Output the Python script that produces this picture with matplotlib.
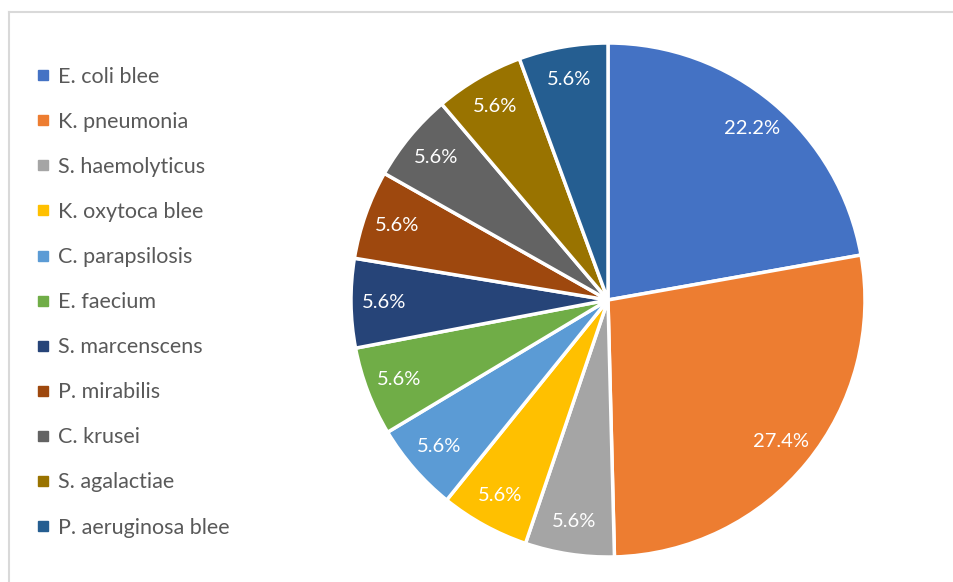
import matplotlib.pyplot as plt
from matplotlib.lines import Line2D

labels = [
    "E. coli blee",
    "K. pneumonia",
    "S. haemolyticus",
    "K. oxytoca blee",
    "C. parapsilosis",
    "E. faecium",
    "S. marcenscens",
    "P. mirabilis",
    "C. krusei",
    "S. agalactiae",
    "P. aeruginosa blee",
]
shares = [22.2, 27.4, 5.6, 5.6, 5.6, 5.6, 5.6, 5.6, 5.6, 5.6, 5.6]
colors = [
    "#4472C4", "#ED7D31", "#A5A5A5", "#FFC000", "#5B9BD5", "#70AD47",
    "#264478", "#9E480E", "#636363", "#997300", "#255E91",
]

plt.rcParams["font.family"] = ["Lato", "DejaVu Sans"]

W, H = 954, 582
fig = plt.figure(figsize=(W / 100, H / 100), dpi=100)

# pie centre (608, 300) px, radius 257 px
cx, cy, r = 608, 300, 257
ax = fig.add_axes([(cx - r) / W, (H - cy - r) / H, 2 * r / W, 2 * r / H])
wedges, texts, autotexts = ax.pie(
    shares,
    colors=colors,
    startangle=90,
    counterclock=False,
    autopct=lambda p: f"{p:.1f}%",
    pctdistance=0.87,
    wedgeprops={"edgecolor": "white", "linewidth": 2.5},
    textprops={"color": "white", "fontsize": 14.5},
)
ax.set_xlim(-1, 1)
ax.set_ylim(-1, 1)
ax.set_aspect("equal")
ax.axis("off")

# chart frame (top and left edges visible)
fig.add_artist(Line2D([9 / W, 9 / W], [0, 1 - 12 / H], transform=fig.transFigure,
                      color="#d9d9d9", lw=1.5))
fig.add_artist(Line2D([9 / W, 1], [1 - 12 / H, 1 - 12 / H], transform=fig.transFigure,
                      color="#d9d9d9", lw=1.5))

handles = [
    Line2D([], [], marker="s", linestyle="none", markersize=6.5,
           markerfacecolor=c, markeredgecolor=c)
    for c in colors
]
leg = fig.legend(
    handles, labels,
    loc="upper left",
    bbox_to_anchor=(26 / W, 1 - 56 / H),
    frameon=False,
    fontsize=15.5,
    labelspacing=1.165,
    handlelength=0.55,
    handletextpad=0.45,
    borderpad=0,
)
for t in leg.get_texts():
    t.set_color("#595959")

fig.savefig("out.png", dpi=100)
